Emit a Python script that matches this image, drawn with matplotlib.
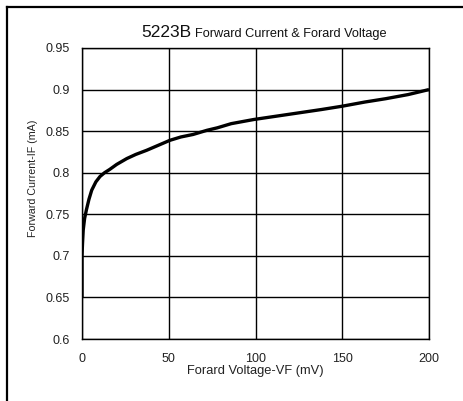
import matplotlib
matplotlib.use("Agg")
import matplotlib.pyplot as plt
from matplotlib.lines import Line2D

plt.rcParams['font.family'] = ['Liberation Sans', 'DejaVu Sans']

# Data
vf_mv = [0, 0, 0.3, 0.7, 1.5, 2.5, 4, 5.6, 8, 10.4, 13, 16, 20, 25.8, 31, 37.3, 44,
         50.7, 57, 64, 72, 78, 86, 99, 112, 125, 138, 150, 163, 175, 188, 200]
if_ma = [0.65, 0.70, 0.715, 0.731, 0.745, 0.755, 0.768, 0.779, 0.789, 0.7955, 0.8,
         0.804, 0.81, 0.817, 0.822, 0.827, 0.833, 0.839, 0.843, 0.846, 0.851, 0.854,
         0.859, 0.864, 0.868, 0.872, 0.876, 0.880, 0.885, 0.889, 0.894, 0.9]
x_ticks = [0, 50, 100, 150, 200]
y_ticks = [0.6, 0.65, 0.7, 0.75, 0.8, 0.85, 0.9, 0.95]
y_tick_labels = ['0.6', '0.65', '0.7', '0.75', '0.8', '0.85', '0.9', '0.95']

W, H = 463, 401
fig = plt.figure(figsize=(W / 100, H / 100), dpi=100)
fig.patch.set_facecolor('white')

ax = fig.add_axes([82 / W, 1 - 339 / H, (429 - 82) / W, (339 - 48) / H])
ax.plot(vf_mv, if_ma, color='black', lw=2.4, solid_capstyle='butt')
ax.set_xlim(0, 200)
ax.set_ylim(0.6, 0.95)
ax.set_xticks(x_ticks)
ax.set_yticks(y_ticks)
ax.set_yticklabels(y_tick_labels)
ax.grid(True, color='black', lw=1.0)
ax.tick_params(length=0, labelsize=9, colors='#222222', pad=10)
ax.tick_params(axis='y', pad=9)
for s in ax.spines.values():
    s.set_color('black')
    s.set_linewidth(1.0)

ax.set_xlabel('Forard Voltage-VF (mV)', fontsize=9.3, color='#222222', labelpad=0)
ax.set_ylabel('Forward Current-IF (mA)', fontsize=7.7, color='#222222')
ax.yaxis.set_label_coords((38 - 82) / 347, (339 - 178) / 291)

# Title in two sizes
fig.text(191 / W, 1 - 37 / H, '5223B', fontsize=12.5, ha='right', va='baseline', color='#111111')
fig.text(195 / W, 1 - 37 / H, 'Forward Current & Forard Voltage', fontsize=9.2,
         ha='left', va='baseline', color='#111111')

# Outer frame
fig.add_artist(Line2D([7 / W, 7 / W], [0, 1 - 7 / H], transform=fig.transFigure,
                      color='black', lw=1.6))
fig.add_artist(Line2D([7 / W, 1], [1 - 7 / H, 1 - 7 / H], transform=fig.transFigure,
                      color='black', lw=1.6))

fig.savefig('out.png', dpi=100)
